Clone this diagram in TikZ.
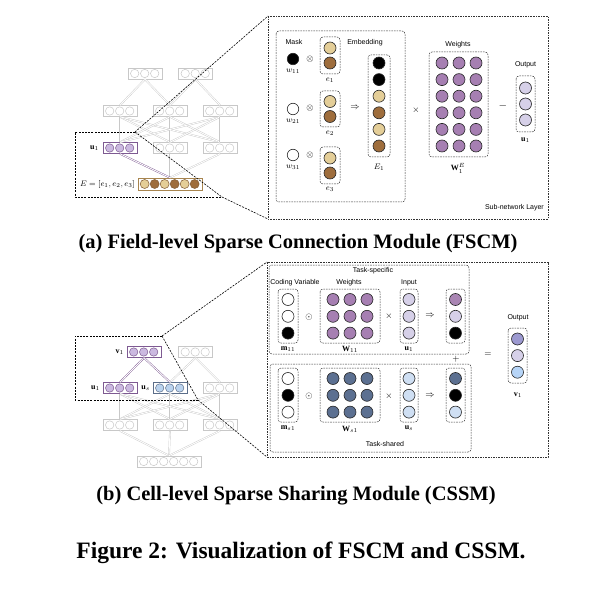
\documentclass[tikz,border=0pt]{standalone}
\usepackage{fontspec}
\setmainfont{Liberation Serif}
\setsansfont{Liberation Sans}
\usetikzlibrary{calc}
\definecolor{ctan}{HTML}{E4CE98}
\definecolor{cbrown}{HTML}{9E6D3C}
\definecolor{cpurple}{HTML}{A67FB2}
\definecolor{clav}{HTML}{D6D0E8}
\definecolor{cslate}{HTML}{5C7091}
\definecolor{clblue}{HTML}{CFDFF3}
\definecolor{coutp}{HTML}{9C99D0}
\definecolor{coutb}{HTML}{B6D4F7}
\definecolor{cresp}{HTML}{A985B3}
\definecolor{netgray}{HTML}{C8C8C8}
\definecolor{hipurple}{HTML}{7E5A92}
\definecolor{hifill}{HTML}{CBB9E0}
\definecolor{ebox}{HTML}{A8854F}
\definecolor{usbox}{HTML}{5C6E8A}
\definecolor{usfill}{HTML}{BBD3EE}
\tikzset{
 dbox/.style={draw=black!80, line width=0.5pt, dash pattern=on 1.6pt off 1pt, rounded corners=3pt},
 obox/.style={draw=black!80, line width=0.5pt, dash pattern=on 1.6pt off 1pt},
 zoomln/.style={draw=black, line width=0.6pt, dash pattern=on 2pt off 1.2pt},
 cir/.style={circle, minimum size=12pt, inner sep=0pt, draw=black!85, line width=0.6pt},
 lbl/.style={font=\sffamily\fontsize{7}{8}\selectfont, inner sep=0pt},
 mlbl/.style={font=\fontsize{8}{9}\selectfont, inner sep=0pt},
 opsym/.style={font=\fontsize{9}{10}\selectfont, inner sep=0pt},
 netln/.style={draw=netgray, double=white, double distance=0.9pt, line width=0.4pt},
 hiln/.style={draw=hipurple, double=white, double distance=0.9pt, line width=0.4pt},
 captext/.style={font=\bfseries\fontsize{20.5}{24}\selectfont, inner sep=0pt},
 figtext/.style={font=\bfseries\fontsize{23.5}{28}\selectfont, inner sep=0pt},
}
% network box: name, x, y, n, boxcolor, circle fill, circle draw
\newcommand{\nbox}[7]{%
 \node[draw=#5, fill=white, line width=0.6pt, minimum width={(#4*10+4)*1pt}, minimum height=11pt, inner sep=0pt] (#1) at (#2,#3) {};
 \foreach \k in {1,...,#4}{\node[circle, minimum size=8.4pt, inner sep=0pt, draw=#7, fill=#6, line width=0.5pt] (#1-\k) at ($(#1.west)+(\k*10-3,0)$) {};}%
}
% column of circles: name, x, ytop, spacing, colours
\newcommand{\ccol}[5]{%
 \foreach \c [count=\i from 0] in {#5}{\node[cir, fill=\c] (#1-\i) at (#2,{#3+\i*#4}) {};}%
}
\begin{document}
\begin{tikzpicture}[x=1pt,y=-1pt]
\useasboundingbox (0,0) rectangle (602,596);

%%%%%%%%%%%% (a) network
\nbox{aT1}{145}{73.5}{3}{netgray}{white}{netgray}
\nbox{aT2}{195.5}{73.5}{3}{netgray}{white}{netgray}
\nbox{aM1}{120}{111}{3}{netgray}{white}{netgray}
\nbox{aM2}{170}{111}{3}{netgray}{white}{netgray}
\nbox{aM3}{220}{111}{3}{netgray}{white}{netgray}
\nbox{aR1}{120}{148}{3}{hipurple}{hifill}{hipurple}
\nbox{aR2}{170}{148}{3}{netgray}{white}{netgray}
\nbox{aR3}{220}{148}{3}{netgray}{white}{netgray}
\node[draw=ebox, fill=white, line width=0.7pt, minimum width=64pt, minimum height=12pt, inner sep=0pt] (aE) at (170,184) {};
\foreach \c [count=\k] in {ctan,cbrown,ctan,cbrown,ctan,cbrown}{\node[circle, minimum size=9pt, inner sep=0pt, draw=cbrown!80!black, fill=\c, line width=0.5pt] (aE-\k) at ($(aE.west)+(\k*10-3,0)$) {};}
\draw[netln] (aT1.south) -- (aM1.north);
\draw[netln] (aT1.south) -- (aM2.north);
\draw[netln] (aT2.south) -- (aM2.north);
\draw[netln] (aT2.south) -- (aM3.north);
\foreach \a in {aM1,aM2,aM3}{\foreach \b in {aR1,aR2,aR3}{\draw[netln] (\a.south) -- (\b.north);}}
\draw[netln] (aR2.south) -- (aE.north);
\draw[netln] (aR3.south) -- (aE.north);
\draw[hiln] (aR1.south) -- (aE.north);
\node[mlbl, anchor=east] (lau) at (99,148) {$\mathbf{u}_1$};
\node[mlbl, anchor=east] (laE) at (135,184.5) {$E=[e_1,e_2,e_3]$};

% zoom region (a)
\coordinate (za1) at (75,132);
\coordinate (za2) at (135,132);
\coordinate (za3) at (222,197);
\coordinate (za4) at (75,197);
\coordinate (pa1) at (268,16);
\coordinate (pa2) at (268,219);
\draw[zoomln] (za2) -- (za1) -- (za4) -- (za3);
\draw[zoomln] (za2) -- (za3);
\draw[zoomln] (za2) -- (pa1);
\draw[zoomln] (za3) -- (pa2);

%%%%%%%%%%%% (a) panel
\draw[obox] (pa1) rectangle (548,219);
\draw[dbox] (276,31) rectangle (405,202);
\node[lbl] (tmask) at (294,42) {Mask};
\node[lbl] (temb) at (365,43) {Embedding};
\node[cir, minimum size=11.5pt, fill=black] (w11) at (293,59) {};
\node[cir, minimum size=11.5pt, fill=white] (w21) at (293,109) {};
\node[cir, minimum size=11.5pt, fill=white] (w31) at (293,155) {};
\node[mlbl] (lw11) at (293,71.5) {$w_{11}$};
\node[mlbl] (lw21) at (293,121.5) {$w_{21}$};
\node[mlbl] (lw31) at (293,167.5) {$w_{31}$};
\node[opsym] (ot1) at (310,59) {$\otimes$};
\node[opsym] (ot2) at (310,108) {$\otimes$};
\node[opsym] (ot3) at (310,155) {$\otimes$};
\draw[dbox] (320,37) rectangle (340,74);
\draw[dbox] (320,91) rectangle (340,127);
\draw[dbox] (320,147) rectangle (340,184);
\ccol{e1}{330}{48}{15}{ctan,cbrown}
\ccol{e2}{330}{101.5}{15}{ctan,cbrown}
\ccol{e3}{330}{158}{15}{ctan,cbrown}
\node[mlbl] (le1) at (330,80) {$e_1$};
\node[mlbl] (le2) at (330,133) {$e_2$};
\node[mlbl] (le3) at (330,189.5) {$e_3$};
\node[opsym] (oimp) at (355,108) {$\Rightarrow$};
\draw[dbox] (368,55) rectangle (390,157);
\ccol{E1}{379}{63}{16.6}{black,black,ctan,cbrown,ctan,cbrown}
\node[mlbl] (lE1) at (379,167) {$E_1$};
\node[opsym] (otimesa) at (416,110) {$\times$};
\node[lbl] (tweights) at (458,45) {Weights};
\draw[dbox] (429,52) rectangle (488,157);
\foreach \xx [count=\j] in {442,459,476}{\ccol{W\j}{\xx}{63}{16.6}{cpurple,cpurple,cpurple,cpurple,cpurple,cpurple}}
\node[mlbl] (lW1E) at (458,168.5) {$\mathbf{W}_1^E$};
\node[font=\fontsize{11}{12}\selectfont, inner sep=0pt] (oeqa) at (503,106) {$-$};
\node[lbl] (toutA) at (525.5,65) {Output};
\draw[dbox] (516,76) rectangle (535,132);
\ccol{oa}{525.5}{88}{16}{clav,clav,clav}
\node[mlbl] (lua) at (525.5,140) {$\mathbf{u}_1$};
\node[lbl, anchor=east] (tsub) at (544,208) {Sub-network Layer};

\node[captext] (capa) at (298,244) {(a) Field-level Sparse Connection Module (FSCM)};

%%%%%%%%%%%% (b) network
\nbox{bT1}{144}{352}{3}{hipurple}{hifill}{hipurple}
\nbox{bT2}{195.5}{352}{3}{netgray}{white}{netgray}
\nbox{bM1}{120}{388}{3}{hipurple}{hifill}{hipurple}
\nbox{bM2}{170}{388}{3}{usbox}{usfill}{usbox}
\nbox{bM3}{220}{388}{3}{netgray}{white}{netgray}
\nbox{bR1}{120}{425}{3}{netgray}{white}{netgray}
\nbox{bR2}{170}{425}{3}{netgray}{white}{netgray}
\nbox{bR3}{220}{425}{3}{netgray}{white}{netgray}
\nbox{bB}{169}{461.5}{6}{netgray}{white}{netgray}
\draw[netln] (bT2.south) -- (bM2.north);
\draw[netln] (bT2.south) -- (bM3.north);
\foreach \a in {bM1,bM2,bM3}{\foreach \b in {bR1,bR2,bR3}{\draw[netln] (\a.south) -- (\b.north);}}
\foreach \a in {bR1,bR2,bR3}{\draw[netln] (\a.south) -- (bB.north);}
\draw[hiln] (bT1.south) -- (bM1.north);
\draw[hiln] (bT1.south) -- (bM2.north);
\node[mlbl, anchor=east] (lbv) at (124,352) {$\mathbf{v}_1$};
\node[mlbl, anchor=east] (lbu) at (100,388) {$\mathbf{u}_1$};
\node[mlbl, anchor=east] (lbs) at (150,388) {$\mathbf{u}_s$};

% zoom region (b)
\coordinate (zb1) at (75,336);
\coordinate (zb2) at (162,336);
\coordinate (zb3) at (198,400);
\coordinate (zb4) at (75,400);
\coordinate (pb1) at (267,262);
\coordinate (pb2) at (267,457);
\draw[zoomln] (zb2) -- (zb1) -- (zb4) -- (zb3);
\draw[zoomln] (zb2) -- (zb3);
\draw[zoomln] (zb2) -- (pb1);
\draw[zoomln] (zb3) -- (pb2);

%%%%%%%%%%%% (b) panel
\draw[obox] (pb1) rectangle (548,457);
\draw[dbox] (269,265) rectangle (469,354);
\draw[dbox] (270,364) rectangle (471,452);
\node[lbl] (ttspec) at (373,271) {Task-specific};
\node[lbl] (tcode) at (295,283) {Coding Variable};
\node[lbl] (tw2) at (349,283) {Weights};
\node[lbl] (tinp) at (409,283) {Input};
% task-specific row
\draw[dbox] (278,289) rectangle (298,343);
\ccol{m11}{288}{299.5}{16.8}{white,white,black}
\node[mlbl] (lm11) at (288,349) {$\mathbf{m}_{11}$};
\node[opsym] (od1) at (309,317) {$\odot$};
\draw[dbox] (320,289) rectangle (380,343);
\foreach \xx [count=\j] in {333,350,367}{\ccol{Wa\j}{\xx}{299.5}{16.8}{cpurple,cpurple,cpurple}}
\node[mlbl] (lW11) at (350,349.5) {$\mathbf{W}_{11}$};
\node[opsym] (ox1) at (389,316) {$\times$};
\draw[dbox] (400,289) rectangle (418,343);
\ccol{ub1}{409}{299.5}{16.8}{clav,clav,clav}
\node[mlbl] (lub1) at (409,349) {$\mathbf{u}_1$};
\node[opsym] (oi1) at (430,316) {$\Rightarrow$};
\draw[dbox] (446,289) rectangle (465,343);
\ccol{rs1}{455.5}{299.5}{16.8}{cresp,clav,black}
\node[opsym] (oplus) at (456,359) {$+$};
% task-shared row
\draw[dbox] (278,368) rectangle (298,422);
\ccol{ms1}{288}{378.5}{16.8}{white,black,white}
\node[mlbl] (lms1) at (288,428.5) {$\mathbf{m}_{s1}$};
\node[opsym] (od2) at (309,396) {$\odot$};
\draw[dbox] (320,368) rectangle (380,422);
\foreach \xx [count=\j] in {333,350,367}{\ccol{Wb\j}{\xx}{378.5}{16.8}{cslate,cslate,cslate}}
\node[mlbl] (lWs1) at (350,429) {$\mathbf{W}_{s1}$};
\node[opsym] (ox2) at (389,396) {$\times$};
\draw[dbox] (400,368) rectangle (418,422);
\ccol{us1}{409}{378.5}{16.8}{clblue,clblue,clblue}
\node[mlbl] (lus1) at (409,428.5) {$\mathbf{u}_s$};
\node[opsym] (oi2) at (430,396) {$\Rightarrow$};
\draw[dbox] (446,368) rectangle (465,422);
\ccol{rs2}{455.5}{378.5}{16.8}{cslate,black,clblue}
\node[lbl] (ttsh) at (385,444) {Task-shared};
% output
\node[opsym] (oeqb) at (488,355) {$=$};
\node[lbl] (toutB) at (518,318) {Output};
\draw[dbox] (508,328) rectangle (527,383);
\ccol{ob}{517.5}{339}{16.6}{coutp,clav,coutb}
\node[mlbl] (lvb) at (518,395) {$\mathbf{v}_1$};

\node[captext] (capb) at (296,496) {(b) Cell-level Sparse Sharing Module (CSSM)};
\node[figtext] (capf) at (301,553) {Figure 2: Visualization of FSCM and CSSM.};
\end{tikzpicture}
\end{document}
